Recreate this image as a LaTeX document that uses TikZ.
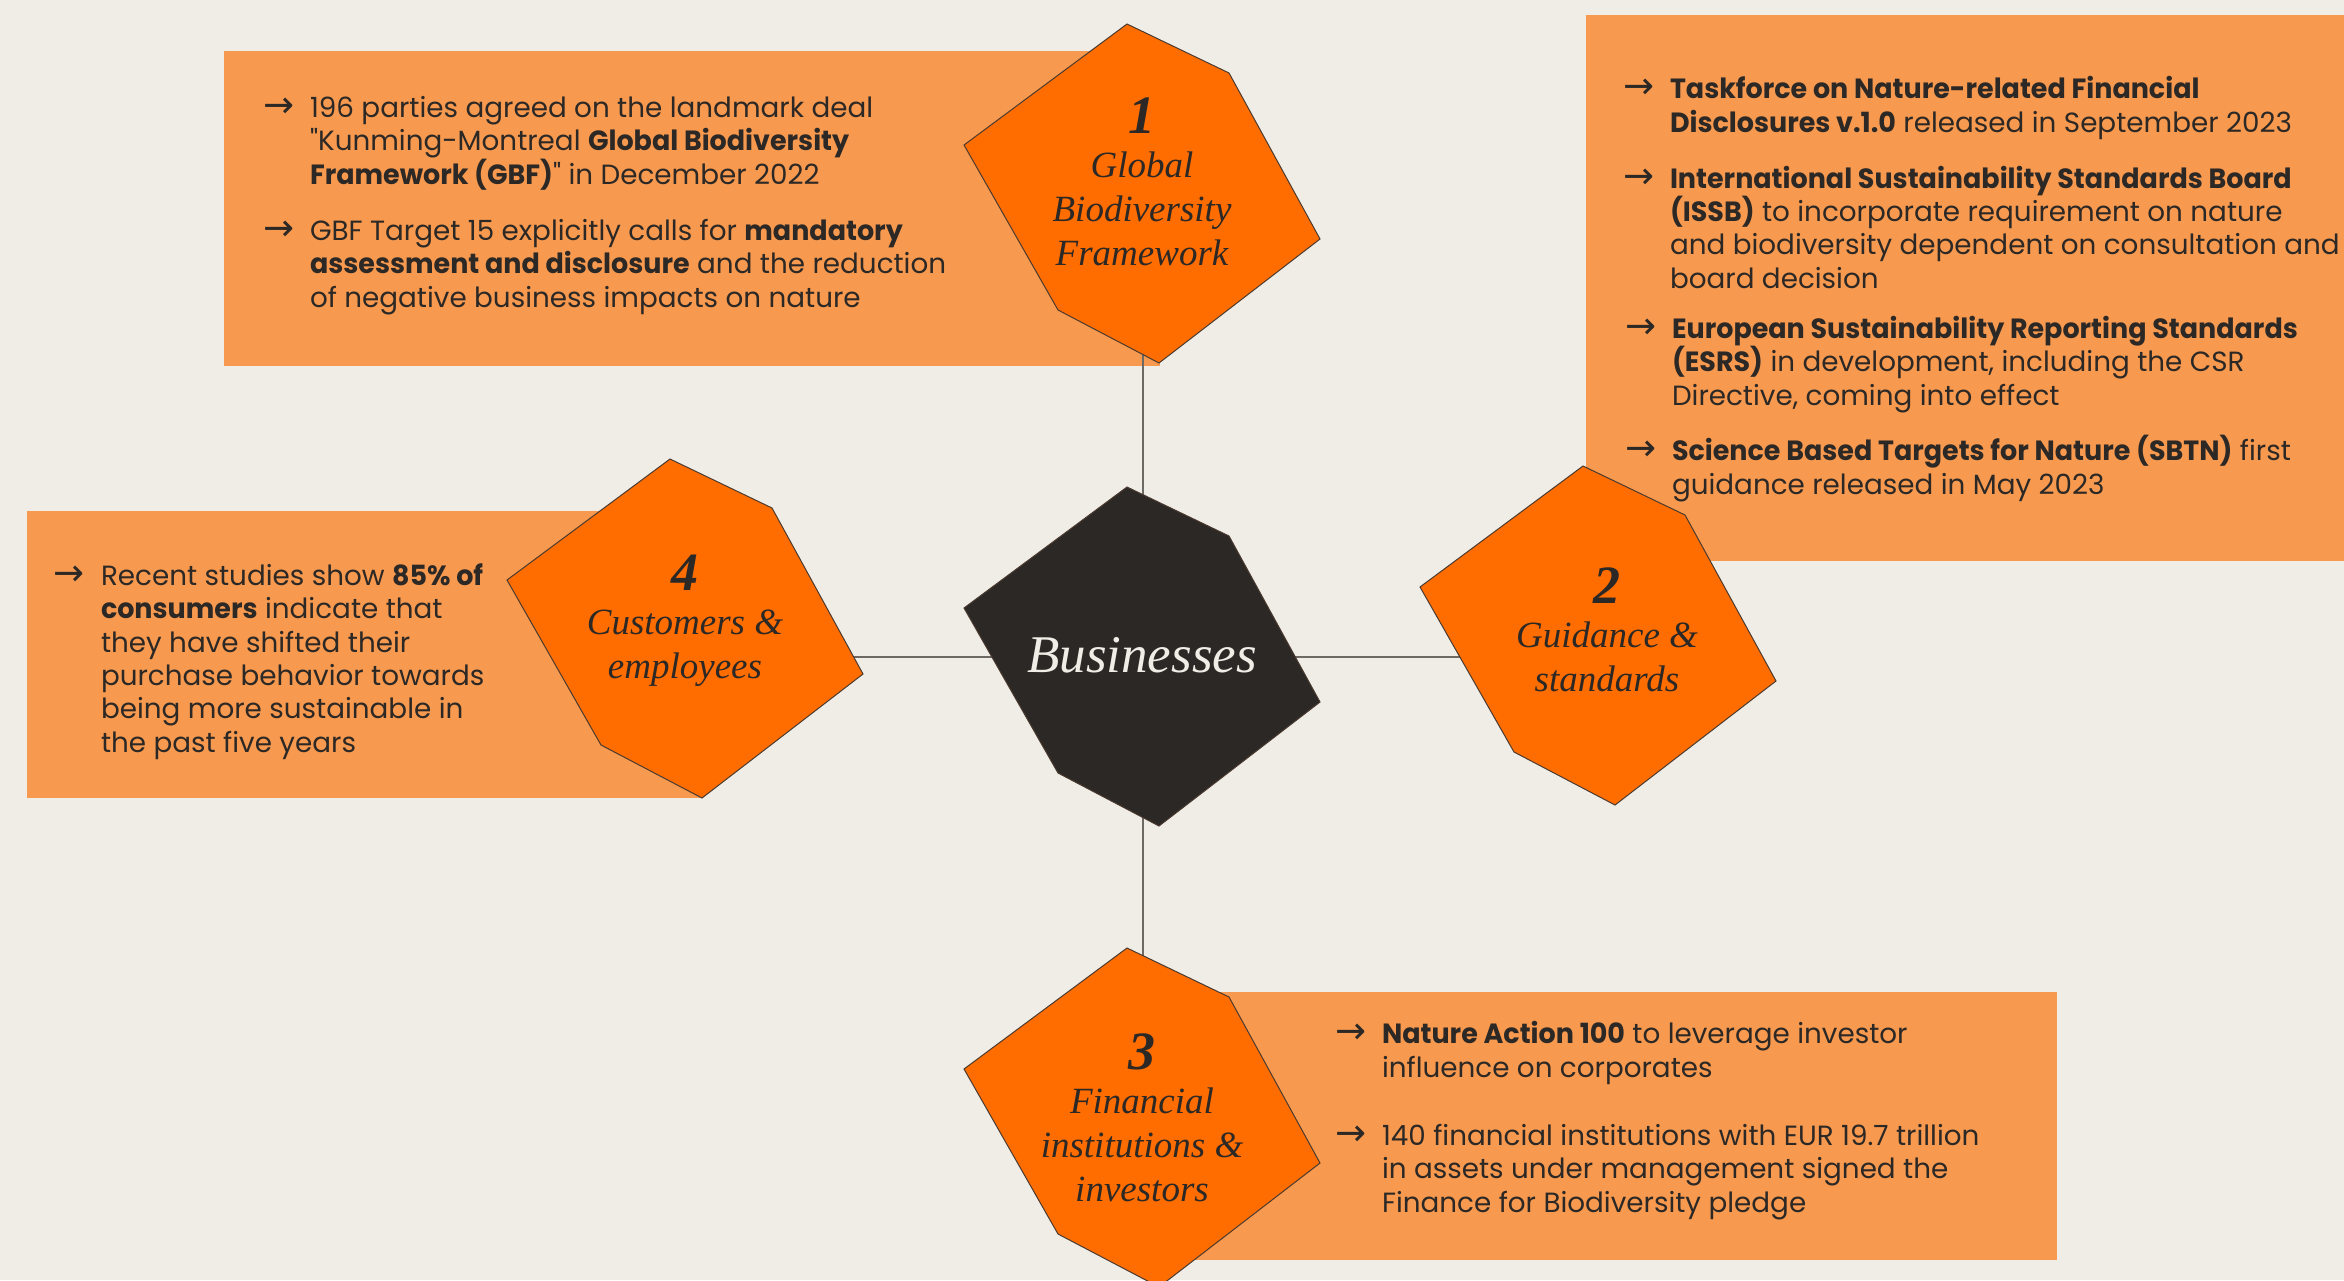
\documentclass[tikz,border=0pt]{standalone}
\usepackage{fontspec}
\setmainfont{Poppins}[BoldFeatures={FakeStretch=0.97}]
\newfontfamily\hexfont{Liberation Serif}
\newfontfamily\arwfont{DejaVu Sans}

\definecolor{paper}{HTML}{F0EDE6}
\definecolor{boxfill}{HTML}{F79A50}
\definecolor{hexfill}{HTML}{FF6D00}
\definecolor{hubfill}{HTML}{2C2825}
\definecolor{ink}{HTML}{2C2825}
\definecolor{hexline}{HTML}{4A3A30}
\definecolor{linkline}{HTML}{6E6963}

\newcommand{\arw}{\llap{{\arwfont\fontsize{18.5}{16}\selectfont →}\hspace{8pt}}}
\newcommand{\bodyfont}{\fontsize{13.9}{16.65}\selectfont}
\newcommand{\hexnum}[1]{{\bfseries\fontsize{27}{22}\selectfont #1}}
\newcommand{\hexat}[2]{%
  \filldraw[hexshape, fill=#2] (#1) ++(-15,-168) -- ++(102,49) -- ++(91,166)
    -- ++(-161,124) -- ++(-101,-53) -- ++(-94,-165) -- cycle;}

\tikzset{
  every node/.style={inner sep=0pt, outer sep=0pt, text=ink},
  pointtext/.style={anchor=base west, align=left, font=\bodyfont},
  hexlabel/.style={align=center, font=\hexfont\itshape\fontsize{18.5}{22}\selectfont},
  hexshape/.style={draw=hexline, line width=0.5pt},
  link/.style={draw=linkline, line width=0.7pt}
}

\begin{document}
\begin{tikzpicture}[x=0.5pt, y=-0.5pt]
	\useasboundingbox (0,0) rectangle (2344,1280);
	\fill[paper] (0,0) rectangle (2344,1280);

	\fill[boxfill] (224,51) rectangle (1160,366);
	\fill[boxfill] (1586,15) rectangle (2344,561);
	\fill[boxfill] (1170,992) rectangle (2057,1260);
	\fill[boxfill] (27,511) rectangle (702,798);

	\coordinate (hub) at (1143,657);
	\coordinate (gbf) at (1142,192);
	\coordinate (guide) at (1598,634);
	\coordinate (finance) at (1142,1116);
	\coordinate (people) at (685,627);

	\draw[link] (hub) -- (hub |- gbf);
	\draw[link] (hub) -- (hub |- finance);
	\draw[link] (hub) -- (hub -| people);
	\draw[link] (hub) -- (hub -| guide);

	\foreach \c in {gbf, guide, finance, people}
		\hexat{\c}{hexfill};
	\hexat{1142,655}{hubfill};

	\node[font=\hexfont\itshape\fontsize{26.5}{30}\selectfont, text=paper] (hub-label) at (1142,655) {Businesses};
	\node[hexlabel, yshift=5pt] (gbf-label) at (gbf) {\hexnum{1}\\Global\\Biodiversity\\Framework};
	\node[hexlabel, xshift=4.5pt, yshift=2pt] (guide-label) at (guide) {\hexnum{2}\\Guidance \&\\standards};
	\node[hexlabel, yshift=-1pt] (finance-label) at (finance) {\hexnum{3}\\Financial\\institutions \&\\investors};
	\node[hexlabel, yshift=3pt] (people-label) at (people) {\hexnum{4}\\Customers \&\\employees};

	% anchors sit on the last line of each point
	\node[pointtext] (gbf-a) at (310,184) {\arw196 parties agreed on the landmark deal\\\textquotedbl Kunming-Montreal \textbf{Global Biodiversity}\\\textbf{Framework (GBF)}\textquotedbl{} in December 2022};
	\node[pointtext] (gbf-b) at (310,307) {\arw GBF Target 15 explicitly calls for \textbf{mandatory}\\\textbf{assessment and disclosure} and the reduction\\of negative business impacts on nature};

	\node[pointtext] (guide-a) at (1670,132) {\arw\textbf{Taskforce on Nature-related Financial}\\\textbf{Disclosures v.1.0} released in September 2023};
	\node[pointtext] (guide-b) at (1670,288) {\arw\textbf{International Sustainability Standards Board}\\\textbf{(ISSB)} to incorporate requirement on nature\\and biodiversity dependent on consultation and\\board decision};
	\node[pointtext] (guide-c) at (1672,405) {\arw\textbf{European Sustainability Reporting Standards}\\\textbf{(ESRS)} in development, including the CSR\\Directive, coming into effect};
	\node[pointtext] (guide-d) at (1672,494) {\arw\textbf{Science Based Targets for Nature (SBTN)} first\\guidance released in May 2023};

	\node[pointtext] (finance-a) at (1382,1077) {\arw\textbf{Nature Action 100} to leverage investor\\influence on corporates};
	\node[pointtext] (finance-b) at (1382,1212) {\arw 140 financial institutions with EUR 19.7 trillion\\in assets under management signed the\\Finance for Biodiversity pledge};

	\node[pointtext] (people-a) at (101,752) {\arw Recent studies show \textbf{85\% of}\\\textbf{consumers} indicate that\\they have shifted their\\purchase behavior towards\\being more sustainable in\\the past five years};
\end{tikzpicture}
\end{document}
